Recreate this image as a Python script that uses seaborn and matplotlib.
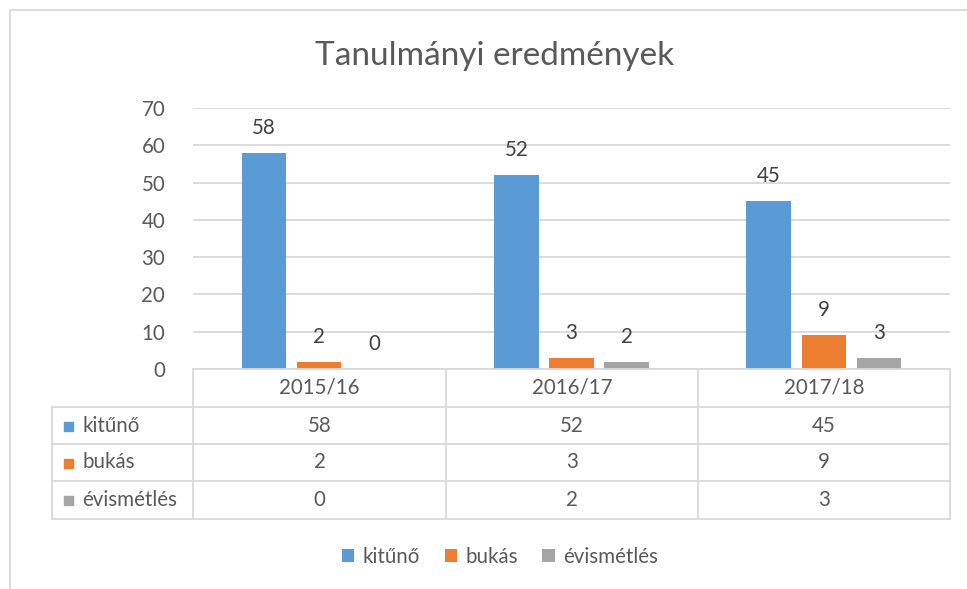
import matplotlib
matplotlib.use("Agg")
import matplotlib.pyplot as plt
from matplotlib.lines import Line2D
from matplotlib.patches import Patch
import seaborn as sns
import pandas as pd

years = ["2015/16", "2016/17", "2017/18"]
series = ["kitűnő", "bukás", "évismétlés"]
kituno = [58, 52, 45]
bukas = [2, 3, 9]
evismetles = [0, 2, 3]
colors = ["#5B9BD5", "#ED7D31", "#A5A5A5"]
yticks = [0, 10, 20, 30, 40, 50, 60, 70]

values = {"kitűnő": kituno, "bukás": bukas, "évismétlés": evismetles}
rows = []
for s in series:
    for y, v in zip(years, values[s]):
        rows.append({"év": y, "sorozat": s, "érték": v})
df = pd.DataFrame(rows)

sns.set_theme(style="white")
plt.rcParams["font.family"] = ["Lato", "DejaVu Sans"]
TXT = "#595959"
GRID = "#D9D9D9"
FS = 14.8

W, H = 967, 589
fig = plt.figure(figsize=(W / 100, H / 100), dpi=100)

def fx(px):
    return px / W

def fy(py):
    return 1 - py / H

L, R, T, B = 193, 950, 108, 369
ax = fig.add_axes([fx(L), fy(B), fx(R) - fx(L), fy(T) - fy(B)])

sns.barplot(data=df, x="év", y="érték", hue="sorozat", hue_order=series,
            palette=colors, width=0.655, gap=0.19, ax=ax, legend=False,
            linewidth=0, saturation=1)

ax.set_xlim(-0.5, 2.5)
ax.set_ylim(0, 70)
ax.set_yticks(yticks)
ax.set_yticklabels([str(t) for t in yticks], color=TXT, fontsize=FS)
ax.tick_params(axis="y", length=0, pad=20)
ax.set_xticks([])
ax.set_xlabel("")
ax.set_ylabel("")
for sp in ax.spines.values():
    sp.set_visible(False)
ax.yaxis.grid(True, color=GRID, linewidth=1.3)
ax.set_axisbelow(True)

for cont in ax.containers:
    for bar in cont:
        h = bar.get_height()
        ax.annotate(f"{int(round(h))}", (bar.get_x() + bar.get_width() / 2, h),
                    xytext=(0, 18), textcoords="offset points",
                    ha="center", va="center", fontsize=FS, color="#404040")

# Title
fig.text(fx(495), fy(56), "Tanulmányi eredmények", ha="center", va="center",
         fontsize=24, color=TXT)

# Outer frame (top and left)
fig.add_artist(Line2D([fx(10), fx(967)], [fy(10), fy(10)], color=GRID, lw=1.3))
fig.add_artist(Line2D([fx(10), fx(10)], [fy(10), fy(589)], color=GRID, lw=1.3))

# Data table
row_y = [369, 407, 444, 481, 519]
col_x = [193, 446, 698, 950]
lab_x = 52
fig.add_artist(Line2D([fx(L), fx(R)], [fy(369), fy(369)], color=GRID, lw=1.3))
for yy in row_y[1:]:
    fig.add_artist(Line2D([fx(lab_x), fx(R)], [fy(yy), fy(yy)], color=GRID, lw=1.3))
for xx in col_x:
    fig.add_artist(Line2D([fx(xx), fx(xx)], [fy(369), fy(519)], color=GRID, lw=1.3))
fig.add_artist(Line2D([fx(lab_x), fx(lab_x)], [fy(407), fy(519)], color=GRID, lw=1.3))

for i, y in enumerate(years):
    cx = (col_x[i] + col_x[i + 1]) / 2
    fig.text(fx(cx), fy(388), y, ha="center", va="center", fontsize=FS, color=TXT)

for r, s in enumerate(series):
    cy = (row_y[r + 1] + row_y[r + 2]) / 2
    sq = plt.Rectangle((fx(64), fy(cy + 5)), fx(9), 9 / H, color=colors[r],
                       transform=fig.transFigure, figure=fig)
    fig.add_artist(sq)
    fig.text(fx(82), fy(cy), s, ha="left", va="center", fontsize=FS, color=TXT)
    for i in range(3):
        cx = (col_x[i] + col_x[i + 1]) / 2
        fig.text(fx(cx), fy(cy), str(values[s][i]), ha="center", va="center",
                 fontsize=FS, color=TXT)

# Legend
handles = [Patch(facecolor=c, edgecolor="none", label=s) for c, s in zip(colors, series)]
fig.legend(handles=handles, loc="center", bbox_to_anchor=(fx(500), fy(557)),
           ncol=3, frameon=False, fontsize=FS, labelcolor=TXT,
           handlelength=0.6, handleheight=0.6, handletextpad=0.4, columnspacing=1.2)

fig.savefig("out.png", dpi=100)
